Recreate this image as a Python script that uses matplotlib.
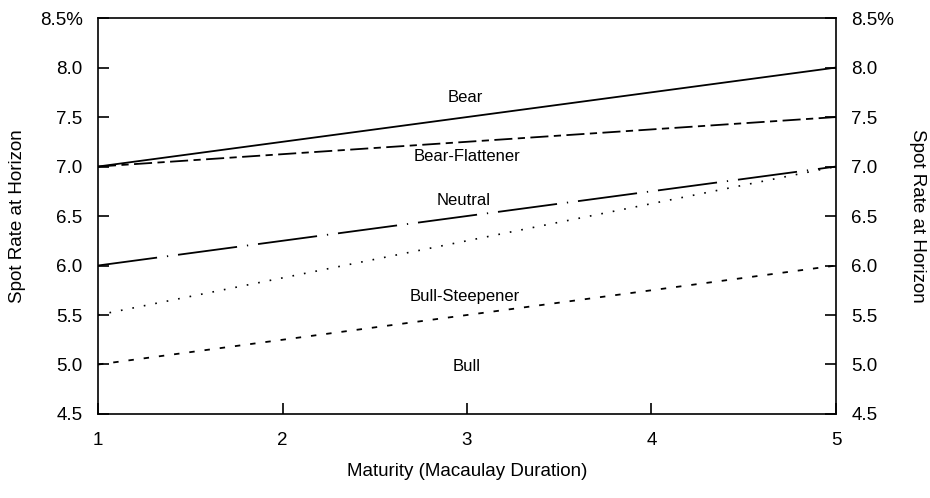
import numpy as np
import matplotlib
matplotlib.use("Agg")
import matplotlib.pyplot as plt

plt.rcParams['font.family'] = ['Liberation Sans', 'DejaVu Sans']

maturity = [1, 5]
bear = [7.0, 8.0]
bear_flat = [7.0, 7.5]
neutral = [6.0, 7.0]
bull_steep = [5.5, 7.0]
bull = [5.0, 6.0]

labels = ["Bear", "Bear-Flattener", "Neutral", "Bull-Steepener", "Bull"]
label_x = [2.99, 3.0, 2.98, 2.99, 3.0]
label_y = [7.70, 7.10, 6.66, 5.69, 4.98]

yticks = [4.5, 5.0, 5.5, 6.0, 6.5, 7.0, 7.5, 8.0, 8.5]
ytick_labels = ["4.5", "5.0", "5.5", "6.0", "6.5", "7.0", "7.5", "8.0", "8.5%"]
xticks = [1, 2, 3, 4, 5]

fig = plt.figure(figsize=(9.3, 4.98), dpi=100)
ax = fig.add_axes([0.1054, 0.1687, 0.7935, 0.795])

lw = 1.3
ax.plot(maturity, bear, color='black', lw=lw, linestyle='-')
ax.plot(maturity, bear_flat, color='black', lw=lw, linestyle=(0, (10, 3, 4, 3)))
ax.plot(maturity, neutral, color='black', lw=lw, linestyle=(0, (33, 5.5, 0.7, 5.5)))
ax.plot(maturity, bull_steep, color='black', lw=1.2, linestyle=(0, (1, 6)))
ax.plot(maturity, bull, color='black', lw=lw, linestyle=(0, (3, 5.5)))

for t, x, y in zip(labels, label_x, label_y):
    ax.text(x, y, t, ha='center', va='center', fontsize=12)

ax.set_xlim(1, 5)
ax.set_ylim(4.5, 8.5)
ax.set_xticks(xticks)
ax.set_yticks(yticks)
ax.set_yticklabels(ytick_labels)
ax.tick_params(axis='both', direction='in', length=8, width=1.2, labelsize=13.5,
               top=False, right=True, labelright=True)
ax.tick_params(axis='y', pad=11)
ax.tick_params(axis='x', pad=13)
for s in ax.spines.values():
    s.set_linewidth(1.2)

ax.set_ylabel("Spot Rate at Horizon", fontsize=13.5)
ax.yaxis.set_label_coords(-0.097, 0.5)
ax.set_xlabel("Maturity (Macaulay Duration)", fontsize=13.5)
ax.xaxis.set_label_coords(0.5, -0.125)
ax.text(1.111, 0.5, "Spot Rate at Horizon", transform=ax.transAxes, rotation=-90,
        ha='center', va='center', fontsize=13.5)

fig.savefig("out.png", dpi=100)
